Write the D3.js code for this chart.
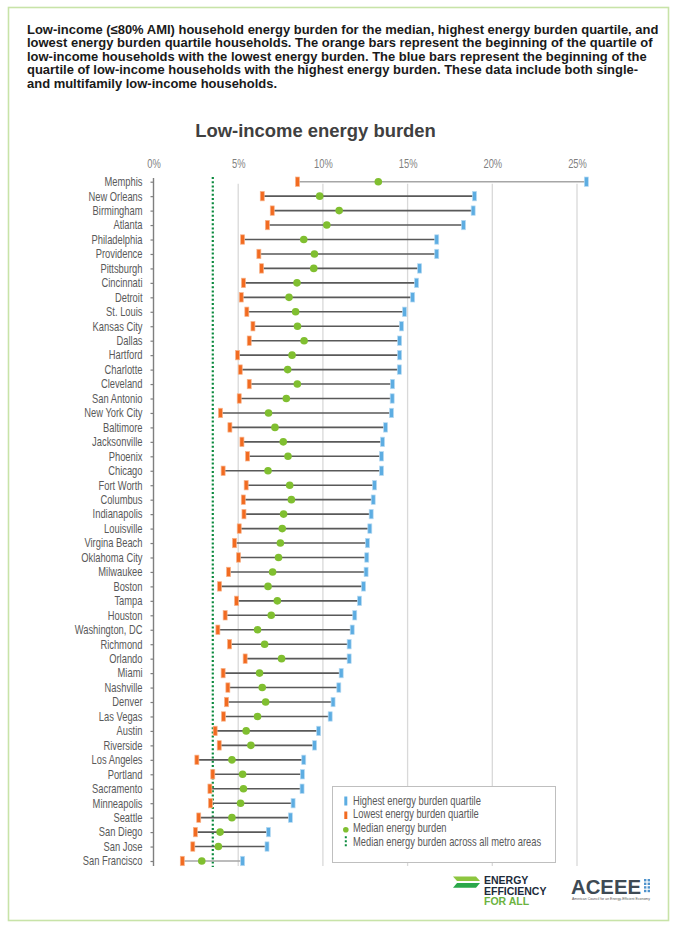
<!DOCTYPE html>
<html>
<head>
<meta charset="utf-8">
<script src="https://cdn.jsdelivr.net/npm/d3@7/dist/d3.min.js"></script>
<style>
  html, body { margin: 0; padding: 0; background: #fff; }
  svg { display: block; }
</style>
</head>
<body>
<svg id="chart" width="680" height="932"></svg>
<script>
// ---------------- DATA ----------------
const cities = ["Memphis","New Orleans","Birmingham","Atlanta","Philadelphia","Providence","Pittsburgh","Cincinnati","Detroit","St. Louis","Kansas City","Dallas","Hartford","Charlotte","Cleveland","San Antonio","New York City","Baltimore","Jacksonville","Phoenix","Chicago","Fort Worth","Columbus","Indianapolis","Louisville","Virgina Beach","Oklahoma City","Milwaukee","Boston","Tampa","Houston","Washington, DC","Richmond","Orlando","Miami","Nashville","Denver","Las Vegas","Austin","Riverside","Los Angeles","Portland","Sacramento","Minneapolis","Seattle","San Diego","San Jose","San Francisco"];
// beginning of lowest energy burden quartile (orange), %
const lowestQuartile = [8.5,6.42,7.01,6.72,5.26,6.22,6.38,5.31,5.18,5.51,5.87,5.65,4.96,5.12,5.65,5.06,3.95,4.51,5.22,5.55,4.11,5.47,5.3,5.34,5.06,4.78,5.02,4.43,3.9,4.9,4.23,3.8,4.49,5.41,4.11,4.39,4.31,4.13,3.64,3.88,2.56,3.5,3.33,3.36,2.67,2.47,2.32,1.7];
// median energy burden (green), %
const medianBurden = [13.27,9.81,10.96,10.23,8.87,9.5,9.46,8.47,8.0,8.39,8.5,8.89,8.18,7.92,8.49,7.84,6.79,7.17,7.66,7.94,6.76,8.04,8.14,7.68,7.6,7.49,7.38,7.03,6.76,7.31,6.95,6.14,6.56,7.56,6.26,6.42,6.62,6.14,5.47,5.75,4.63,5.26,5.31,5.14,4.63,3.93,3.83,2.85];
// beginning of highest energy burden quartile (blue), %
const highestQuartile = [25.55,18.95,18.87,18.3,16.72,16.72,15.71,15.53,15.3,14.82,14.64,14.53,14.53,14.51,14.11,14.09,14.05,13.7,13.52,13.46,13.46,13.05,12.97,12.85,12.77,12.63,12.59,12.55,12.4,12.16,11.88,11.73,11.55,11.55,11.08,10.94,10.6,10.43,9.75,9.51,8.87,8.79,8.77,8.24,8.08,6.78,6.7,5.26];
// median energy burden across all metro areas, %
const metroMedian = [3.5];
const xTicks = [0,5,10,15,20,25];
const tickLabels = ["0%","5%","10%","15%","20%","25%"];
const headerLines = [
  "Low-income (\u226480% AMI) household energy burden for the median, highest energy burden quartile, and",
  "lowest energy burden quartile households. The orange bars represent the beginning of the quartile of",
  "low-income households with the lowest energy burden. The blue bars represent the beginning of the",
  "quartile of low-income households with the highest energy burden. These data include both single-",
  "and multifamily low-income households."
];
const chartTitle = "Low-income energy burden";
const legendItems = ["Highest energy burden quartile","Lowest energy burden quartile","Median energy burden","Median energy burden across all metro areas"];

// ---------------- STYLE ----------------
const SANS = '"Liberation Sans", Arial, "DejaVu Sans", sans-serif';
const NARROW_SCALE = 0.78; // condensed look via horizontal scaling
const C = { orange: "#f26b21", orangeEdge: "#f8b48c", blue: "#5dade2", blueEdge: "#b8dbf3", green: "#80bf30", dotted: "#0b8a3e", line: "#595959", lineLight: "#a6a6a6", grid: "#d9d9d9", text: "#595959" };

const svg = d3.select("#chart");

// frame
svg.append("rect").attr("x", 8.5).attr("y", 7.5).attr("width", 660).attr("height", 913)
  .attr("fill", "none").attr("stroke", "#c8e3a8").attr("stroke-width", 1.6);

// header
const header = svg.append("g");
headerLines.forEach((t, i) => {
  header.append("text").attr("x", 27).attr("y", 33.5 + i * 13.6)
    .attr("font-family", SANS).attr("font-weight", "bold").attr("font-size", 12)
    .attr("fill", "#1a1a1a").text(t);
});
(function fit() {
  const first = header.select("text").node();
  const w = first.getComputedTextLength();
  header.selectAll("text").attr("font-size", 12 * 632 / w);
})();

// title
const title = svg.append("text").attr("x", 315.5).attr("y", 137).attr("text-anchor", "middle")
  .attr("font-family", SANS).attr("font-weight", "bold").attr("font-size", 19)
  .attr("fill", "#404040").text(chartTitle);
(function () {
  const w = title.node().getComputedTextLength();
  title.attr("font-size", 19 * 241 / w);
})();

// scales
const x = d3.scaleLinear().domain([0, 25]).range([153.5, 577]);
const y = d3.scalePoint().domain(cities).range([181.7, 861]);

// gridlines
svg.append("g").selectAll("line").data(xTicks.filter(d => d > 0)).join("line")
  .attr("x1", d => x(d)).attr("x2", d => x(d))
  .attr("y1", y(cities[0]) + 2).attr("y2", 866)
  .attr("stroke", C.grid).attr("stroke-width", 1.3);

// top axis labels (condensed)
const xAxis = svg.append("g").attr("transform", "translate(0,168)")
  .call(d3.axisTop(x).tickValues(xTicks).tickSize(0).tickPadding(0).tickFormat((d, i) => tickLabels[i]));
xAxis.select(".domain").remove();
xAxis.selectAll("text").attr("font-family", SANS).attr("font-size", 12).attr("fill", "#7f7f7f")
  .attr("transform", `scale(${NARROW_SCALE},1)`);

// left axis (condensed labels)
const yAxis = svg.append("g").attr("transform", `translate(${x(0)},0)`)
  .call(d3.axisLeft(y).tickSize(3).tickPadding(8).tickSizeOuter(0));
yAxis.select(".domain").remove();
yAxis.selectAll(".tick line").attr("stroke", "#7f7f7f").attr("stroke-width", 1.2);
yAxis.selectAll("text").attr("font-family", SANS).attr("font-size", 12).attr("fill", C.text)
  .attr("x", -11 / NARROW_SCALE).attr("transform", `scale(${NARROW_SCALE},1)`);
svg.append("line").attr("x1", x(0)).attr("x2", x(0)).attr("y1", 178).attr("y2", 866)
  .attr("stroke", "#7f7f7f").attr("stroke-width", 1.4);

// median across metro areas (dotted)
svg.append("g").selectAll("line").data(metroMedian).join("line")
  .attr("x1", d => x(d)).attr("x2", d => x(d)).attr("y1", 177).attr("y2", 867)
  .attr("stroke", C.dotted).attr("stroke-width", 2.2).attr("stroke-dasharray", "2,2.2");

// rows
const rows = cities.map((c, i) => ({ city: c, lo: lowestQuartile[i], med: medianBurden[i], hi: highestQuartile[i], i }));
const gRows = svg.append("g");
gRows.selectAll("line.range").data(rows).join("line").attr("class", "range")
  .attr("x1", d => x(d.lo)).attr("x2", d => x(d.hi))
  .attr("y1", d => y(d.city)).attr("y2", d => y(d.city))
  .attr("stroke", d => (d.i === 0 || d.i === rows.length - 1) ? C.lineLight : C.line)
  .attr("stroke-width", 1.6);
gRows.selectAll("rect.lo").data(rows).join("rect").attr("class", "lo")
  .attr("x", d => x(d.lo) - 2).attr("y", d => y(d.city) - 4.7)
  .attr("width", 4).attr("height", 9.4)
  .attr("fill", C.orange).attr("stroke", C.orangeEdge).attr("stroke-width", 0.7);
gRows.selectAll("rect.hi").data(rows).join("rect").attr("class", "hi")
  .attr("x", d => x(d.hi) - 2).attr("y", d => y(d.city) - 4.7)
  .attr("width", 4).attr("height", 9.4)
  .attr("fill", C.blue).attr("stroke", C.blueEdge).attr("stroke-width", 0.7);
gRows.selectAll("circle.med").data(rows).join("circle").attr("class", "med")
  .attr("cx", d => x(d.med)).attr("cy", d => y(d.city)).attr("r", 3.8)
  .attr("fill", C.green);

// legend
const lg = svg.append("g");
lg.append("rect").attr("x", 332.5).attr("y", 786.5).attr("width", 223).attr("height", 76)
  .attr("fill", "#fff").attr("stroke", "#bfbfbf").attr("stroke-width", 1);
const ly = [801, 814.5, 828.3, 842.3];
lg.append("rect").attr("x", 344.3).attr("y", ly[0] - 4.5).attr("width", 3).attr("height", 9).attr("fill", C.blue);
lg.append("rect").attr("x", 344.3).attr("y", ly[1] - 3).attr("width", 3).attr("height", 7.5).attr("fill", C.orange);
lg.append("circle").attr("cx", 345.8).attr("cy", ly[2] + 1.5).attr("r", 2.8).attr("fill", C.green);
lg.append("line").attr("x1", 345.8).attr("x2", 345.8).attr("y1", ly[3] - 6).attr("y2", ly[3] + 6)
  .attr("stroke", C.dotted).attr("stroke-width", 2).attr("stroke-dasharray", "2,2");
legendItems.forEach((t, i) => {
  lg.append("text").attr("x", 353 / NARROW_SCALE).attr("y", ly[i] + 4).attr("font-family", SANS)
    .attr("font-size", 12).attr("fill", C.text)
    .attr("transform", `scale(${NARROW_SCALE},1)`).text(t);
});

// logos
const logo = svg.append("g");
logo.append("polygon").attr("points", "453,876.5 476,876.5 480,881 457,881").attr("fill", "#8dc63f");
logo.append("polygon").attr("points", "457,883 480,883 476,887.7 453,887.7").attr("fill", "#2aa84a");
[["ENERGY", 884, "#1c2b3a"], ["EFFICIENCY", 894.5, "#1c2b3a"], ["FOR ALL", 905, "#6cb33f"]].forEach(([t, yy, col]) => {
  logo.append("text").attr("x", 484).attr("y", yy).attr("font-family", SANS).attr("font-weight", "bold")
    .attr("font-size", 10.5).attr("fill", col).text(t);
});
logo.append("text").attr("x", 571).attr("y", 894).attr("font-family", SANS).attr("font-weight", "bold")
  .attr("font-size", 21).attr("fill", "#3e4a54")
  .attr("textLength", 70).attr("lengthAdjust", "spacingAndGlyphs").text("ACEEE");
for (let r = 0; r < 4; r++) for (let c = 0; c < 2; c++) {
  logo.append("rect").attr("x", 644 + c * 3.6).attr("y", 879 + r * 3.6).attr("width", 2.4).attr("height", 2.4)
    .attr("fill", "#4f93cc");
}
logo.append("text").attr("x", 572).attr("y", 900).attr("font-family", SANS).attr("font-size", 3.6)
  .attr("fill", "#555").attr("textLength", 78).attr("lengthAdjust", "spacingAndGlyphs")
  .text("American Council for an Energy-Efficient Economy");
</script>
</body>
</html>
